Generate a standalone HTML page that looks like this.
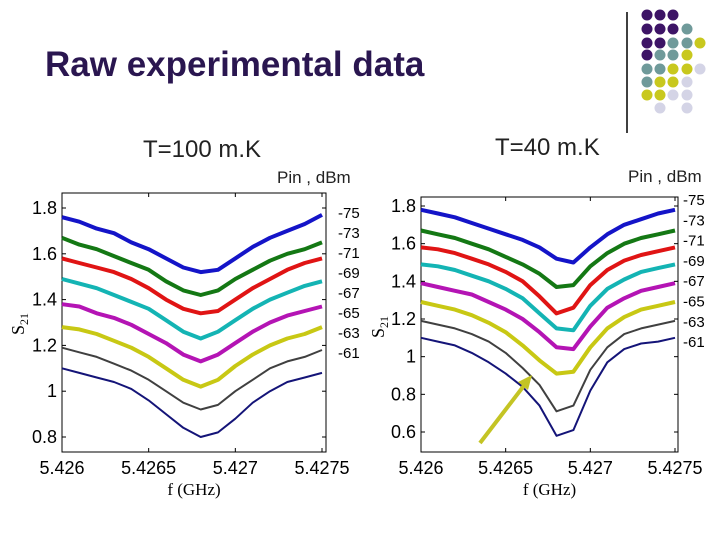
<!DOCTYPE html>
<html><head><meta charset="utf-8"><style>
html,body{margin:0;padding:0;background:#fff;}
body{width:720px;height:540px;position:relative;overflow:hidden;font-family:"Liberation Sans",sans-serif;}
.t{position:absolute;white-space:nowrap;}
</style></head><body>
<div class="t" style="left:45px;top:45px;font-size:35px;font-weight:bold;color:#2a1650;">Raw experimental data</div>
<div class="t" style="left:143px;top:136px;font-size:24px;color:#222;">T=100 m.K</div>
<div class="t" style="left:495px;top:134px;font-size:24px;color:#222;">T=40 m.K</div>
<div class="t" style="left:277px;top:168px;font-size:17px;color:#222;">Pin , dBm</div>
<div class="t" style="left:628px;top:167px;font-size:17px;color:#222;">Pin , dBm</div>
<svg id="deco" width="720" height="540" style="position:absolute;left:0;top:0"></svg>
<svg id="chart" width="720" height="540" style="position:absolute;left:0;top:0"></svg>
<script>
const freqs=[5.426,5.4261,5.4262,5.4263,5.4264,5.4265,5.4266,5.4267,5.4268,5.4269,5.427,5.4271,5.4272,5.4273,5.4274,5.4275];
const powers=["-75","-73","-71","-69","-67","-65","-63","-61"];
const colors=["#1414c8","#147814","#e01414","#14b4b4","#b414b4","#c8c814","#404040","#141478"];
const left75=[1.76,1.74,1.71,1.69,1.65,1.62,1.58,1.54,1.52,1.53,1.58,1.63,1.67,1.70,1.73,1.77];
const left73=[1.67,1.64,1.62,1.59,1.56,1.53,1.48,1.44,1.42,1.44,1.49,1.53,1.57,1.60,1.62,1.65];
const left71=[1.58,1.56,1.54,1.52,1.49,1.45,1.40,1.36,1.34,1.35,1.40,1.45,1.49,1.53,1.56,1.58];
const left69=[1.49,1.47,1.45,1.42,1.39,1.36,1.31,1.26,1.23,1.26,1.31,1.36,1.40,1.43,1.46,1.48];
const left67=[1.38,1.37,1.34,1.32,1.29,1.25,1.21,1.16,1.13,1.16,1.21,1.26,1.30,1.33,1.35,1.37];
const left65=[1.28,1.27,1.25,1.22,1.19,1.15,1.10,1.05,1.02,1.05,1.11,1.16,1.20,1.23,1.25,1.28];
const left63=[1.19,1.17,1.15,1.12,1.09,1.05,1.00,0.95,0.92,0.94,1.00,1.05,1.10,1.13,1.15,1.18];
const left61=[1.10,1.08,1.06,1.04,1.01,0.96,0.90,0.84,0.80,0.82,0.88,0.95,1.00,1.04,1.06,1.08];
const right75=[1.78,1.76,1.74,1.71,1.68,1.65,1.62,1.58,1.52,1.50,1.58,1.65,1.70,1.73,1.76,1.78];
const right73=[1.67,1.65,1.63,1.60,1.57,1.53,1.49,1.44,1.37,1.38,1.48,1.55,1.60,1.63,1.65,1.67];
const right71=[1.58,1.57,1.55,1.52,1.49,1.45,1.40,1.32,1.23,1.26,1.38,1.46,1.51,1.54,1.56,1.58];
const right69=[1.49,1.48,1.46,1.43,1.40,1.36,1.31,1.23,1.15,1.14,1.27,1.36,1.41,1.45,1.47,1.49];
const right67=[1.39,1.37,1.35,1.33,1.29,1.25,1.20,1.13,1.05,1.04,1.16,1.26,1.31,1.35,1.37,1.39];
const right65=[1.29,1.27,1.25,1.22,1.18,1.13,1.06,0.98,0.91,0.92,1.05,1.15,1.21,1.25,1.27,1.29];
const right63=[1.19,1.17,1.15,1.12,1.08,1.02,0.94,0.85,0.71,0.74,0.93,1.05,1.12,1.15,1.17,1.19];
const right61=[1.10,1.08,1.06,1.02,0.97,0.91,0.84,0.74,0.58,0.61,0.82,0.97,1.04,1.07,1.08,1.10];
const xTicks=[5.426,5.4265,5.427,5.4275];
const xTickLabels=["5.426","5.4265","5.427","5.4275"];
const leftYTicks=[0.8,1,1.2,1.4,1.6,1.8];
const leftYLabels=["0.8","1","1.2","1.4","1.6","1.8"];
const rightYTicks=[0.6,0.8,1,1.2,1.4,1.6,1.8];
const rightYLabels=["0.6","0.8","1","1.2","1.4","1.6","1.8"];
const leftSeries=[left75,left73,left71,left69,left67,left65,left63,left61];
const rightSeries=[right75,right73,right71,right69,right67,right65,right63,right61];
const NS="http://www.w3.org/2000/svg";
const svg=document.getElementById('chart');
function mk(tag,attrs,parent){const e=document.createElementNS(NS,tag);for(const k in attrs)e.setAttribute(k,attrs[k]);(parent||svg).appendChild(e);return e;}
function drawChart(cfg){
  const g=mk('g',{});
  
  
  const sx=v=>cfg.x0+(v-5.426)/0.0015*(cfg.x1-cfg.x0);
  const sy=v=>cfg.yA+(v-cfg.vA)/(cfg.vB-cfg.vA)*(cfg.yB-cfg.yA);
  mk('rect',{x:cfg.bl,y:cfg.bt,width:cfg.br-cfg.bl,height:cfg.bb-cfg.bt,fill:'#fff',stroke:'#000','stroke-width':1},g);
  cfg.series.forEach((s,i)=>{
    const pts=s.map((v,j)=>sx(freqs[j]).toFixed(1)+','+sy(v).toFixed(1)).join(' ');
    const p=mk('polyline',{points:pts,fill:'none',stroke:colors[i],'stroke-width':i<6?4:2,'stroke-linejoin':'round'},g);
    
    
  });
  xTicks.forEach((v,i)=>{
    const x=sx(v);
    mk('line',{x1:x,y1:cfg.bb,x2:x,y2:cfg.bb-4,stroke:'#000'},g);
    mk('line',{x1:x,y1:cfg.bt,x2:x,y2:cfg.bt+4,stroke:'#000'},g);
    const t=mk('text',{x:x,y:cfg.bb+22,'text-anchor':'middle','font-size':18,fill:'#000','font-family':'Liberation Sans'},g);
    t.textContent=xTickLabels[i];
    
    
  });
  cfg.yt.forEach((v,i)=>{
    const y=sy(v);
    mk('line',{x1:cfg.bl,y1:y,x2:cfg.bl+4,y2:y,stroke:'#000'},g);
    mk('line',{x1:cfg.br,y1:y,x2:cfg.br-4,y2:y,stroke:'#000'},g);
    const t=mk('text',{x:cfg.bl-5,y:y+6,'text-anchor':'end','font-size':18,fill:'#000','font-family':'Liberation Sans'},g);
    t.textContent=cfg.yl[i];
    
    
  });
  powers.forEach((p,i)=>{
    const t=mk('text',{x:cfg.lx,y:cfg.ly+i*cfg.ld,'font-size':15,fill:'#000','font-family':'Liberation Sans'},g);
    t.textContent=p;
    
    
  });
  const xt=mk('text',{x:(cfg.bl+cfg.br)/2,y:cfg.bb+43,'text-anchor':'middle','font-size':17,fill:'#000','font-family':'Liberation Serif'},g);
  xt.textContent=cfg.xlabel;
  
  
  const yt=mk('text',{x:0,y:0,'font-size':18,fill:'#000','font-family':'Liberation Serif',transform:'translate('+cfg.ytx+','+cfg.yty+') rotate(-90)'},g);
  yt.innerHTML='S<tspan font-size="12" dy="4">21</tspan>';
  
  
}
drawChart({name:'left-chart',series:leftSeries,x0:62,x1:322,bl:62,br:326,bt:193,bb:452,vA:1.8,yA:208,vB:0.8,yB:437,yt:leftYTicks,yl:leftYLabels,lx:338,ly:218,ld:20,xlabel:'f (GHz)',ytx:24,yty:335});
drawChart({name:'right-chart',series:rightSeries,x0:421,x1:675,bl:421,br:678,bt:197,bb:452,vA:1.8,yA:206,vB:0.6,yB:432,yt:rightYTicks,yl:rightYLabels,lx:683,ly:205,ld:20.3,xlabel:'f (GHz)',ytx:384,yty:338});
const ar=mk('line',{x1:480,y1:443,x2:526,y2:383,stroke:'#c4c424','stroke-width':4});


const ah=mk('polygon',{points:'532,375 518,382 528,390',fill:'#c4c424'});


const deco=document.getElementById('deco');
const vl=document.createElementNS(NS,'line');
[['x1',627],['y1',12],['x2',627],['y2',133],['stroke','#000'],['stroke-width',1.5]].forEach(a=>vl.setAttribute(a[0],a[1]));


deco.appendChild(vl);
const dotRows=["PPP","PPPT","PPTTY","PTTY","TTYYL","TYYL","YYLL",".L.L"];
const dotCols={P:'#3d1466',T:'#6f9a9a',Y:'#c8c81e',L:'#d4d4e6'};
const colX=[647,660,673,687,700];
const rowY=[15,29,43,55,69,82,95,108];
dotRows.forEach((r,ri)=>{[...r].forEach((c,ci)=>{if(c==='.')return;
  const d=document.createElementNS(NS,'circle');
  d.setAttribute('cx',colX[ci]);d.setAttribute('cy',rowY[ri]);d.setAttribute('r',5.5);d.setAttribute('fill',dotCols[c]);
  
  
  deco.appendChild(d);});});
</script>
</body></html>
